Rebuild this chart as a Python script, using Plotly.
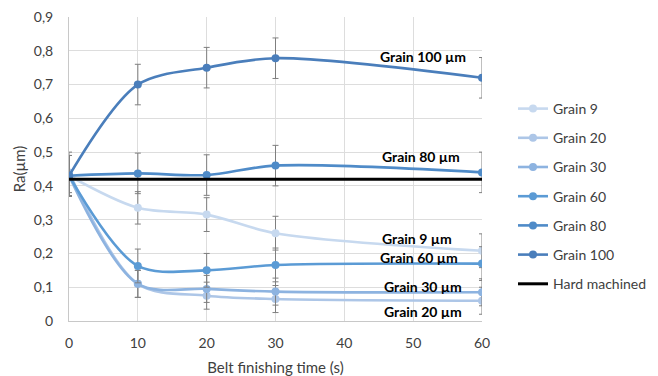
import plotly.graph_objects as go

# Belt finishing time (s)
times = [0, 10, 20, 30, 60]

# Surface roughness Ra (µm) for each grain size
grain_9 = [0.430, 0.335, 0.315, 0.260, 0.208]
grain_20 = [0.440, 0.110, 0.075, 0.065, 0.060]
grain_30 = [0.430, 0.110, 0.095, 0.087, 0.085]
grain_60 = [0.430, 0.163, 0.150, 0.166, 0.170]
grain_80 = [0.430, 0.437, 0.432, 0.460, 0.440]
grain_100 = [0.430, 0.700, 0.750, 0.778, 0.720]

# Standard deviation of the measurements
err_9 = [0.06, 0.048, 0.05, 0.05, 0.05]
err_20 = [0.06, 0.04, 0.04, 0.04, 0.04]
err_30 = [0.06, 0.04, 0.04, 0.04, 0.04]
err_60 = [0.06, 0.05, 0.05, 0.05, 0.05]
err_80 = [0.06, 0.06, 0.06, 0.06, 0.06]
err_100 = [0.06, 0.06, 0.06, 0.06, 0.06]

hard_machined = [0.42, 0.42]
hard_times = [0, 60]

series_names = ["Grain 9", "Grain 20", "Grain 30", "Grain 60", "Grain 80", "Grain 100"]
series_values = [grain_9, grain_20, grain_30, grain_60, grain_80, grain_100]
series_errors = [err_9, err_20, err_30, err_60, err_80, err_100]
series_colors = ["#C7D9EF", "#ADC6E7", "#8DB3E0", "#5B9BD5", "#4F8BC8", "#4A7EBB"]

# Axis ticks
y_ticks = [0, 0.1, 0.2, 0.3, 0.4, 0.5, 0.6, 0.7, 0.8, 0.9]
y_tick_labels = ["0", "0,1", "0,2", "0,3", "0,4", "0,5", "0,6", "0,7", "0,8", "0,9"]
x_ticks = [0, 10, 20, 30, 40, 50, 60]

# Labels written next to the curve ends
label_texts = ["Grain 100 µm", "Grain 80 µm", "Grain 9 µm", "Grain 60 µm", "Grain 30 µm", "Grain 20 µm"]
label_x = [51.4, 51.2, 50.6, 50.9, 51.4, 51.4]
label_y = [0.782, 0.486, 0.243, 0.187, 0.101, 0.027]

FONT = "Lato"
TEXT_COLOR = "#404040"

# Figure geometry (pixels)
W, H = 658, 376
M_L, M_R, M_T, M_B = 69, 10, 17, 10
PLOT_RIGHT, PLOT_BOTTOM = 482, 321
paper_w = W - M_L - M_R
paper_h = H - M_T - M_B
x_domain = [0, (PLOT_RIGHT - M_L) / paper_w]
y_domain = [(H - M_B - PLOT_BOTTOM) / paper_h, 1]

fig = go.Figure()

for name, vals, errs, col in zip(series_names, series_values, series_errors, series_colors):
    fig.add_trace(go.Scatter(
        x=times, y=vals, name=name, legendgroup=name,
        mode="lines+markers",
        line=dict(color=col, width=2.6, shape="spline", smoothing=0.9),
        marker=dict(color=col, size=8),
        error_y=dict(type="data", array=errs, visible=True,
                     color="#7F7F7F", thickness=1, width=3),
        cliponaxis=True,
    ))

fig.add_trace(go.Scatter(
    x=hard_times, y=hard_machined, name="Hard machined", legendgroup="hm",
    mode="lines", line=dict(color="black", width=3),
))

for t, x, y in zip(label_texts, label_x, label_y):
    fig.add_annotation(x=x, y=y, text=f"<b>{t}</b>", showarrow=False,
                       font=dict(family=FONT, size=14, color="black"),
                       xanchor="center", yanchor="middle")

fig.update_layout(
    width=W, height=H,
    margin=dict(l=M_L, r=M_R, t=M_T, b=M_B, autoexpand=False),
    paper_bgcolor="white", plot_bgcolor="white",
    font=dict(family=FONT, size=14, color=TEXT_COLOR),
    legend=dict(x=(513 - M_L) / paper_w, y=1 - (93 - M_T) / paper_h,
                xanchor="left", yanchor="top",
                font=dict(family=FONT, size=14, color=TEXT_COLOR),
                tracegroupgap=8, itemwidth=30, bgcolor="rgba(0,0,0,0)"),
    xaxis=dict(domain=x_domain, range=[0, 60], tickvals=x_ticks, automargin=False,
               showgrid=True, gridcolor="#DDDDDD", gridwidth=1,
               zeroline=False, showline=True, linecolor="#C8C8C8",
               ticks="", ticklabelstandoff=9,
               title=dict(text="Belt finishing time (s)", standoff=14,
                          font=dict(family=FONT, size=15, color=TEXT_COLOR))),
    yaxis=dict(domain=y_domain, range=[0, 0.9], tickvals=y_ticks, ticktext=y_tick_labels,
               automargin=False,
               showgrid=True, gridcolor="#DDDDDD", gridwidth=1,
               zeroline=False, showline=True, linecolor="#C8C8C8",
               ticks="", ticklabelstandoff=12,
               title=dict(text="Ra(µm)", standoff=4,
                          font=dict(family=FONT, size=15, color=TEXT_COLOR))),
)

fig.write_html("out.html")
